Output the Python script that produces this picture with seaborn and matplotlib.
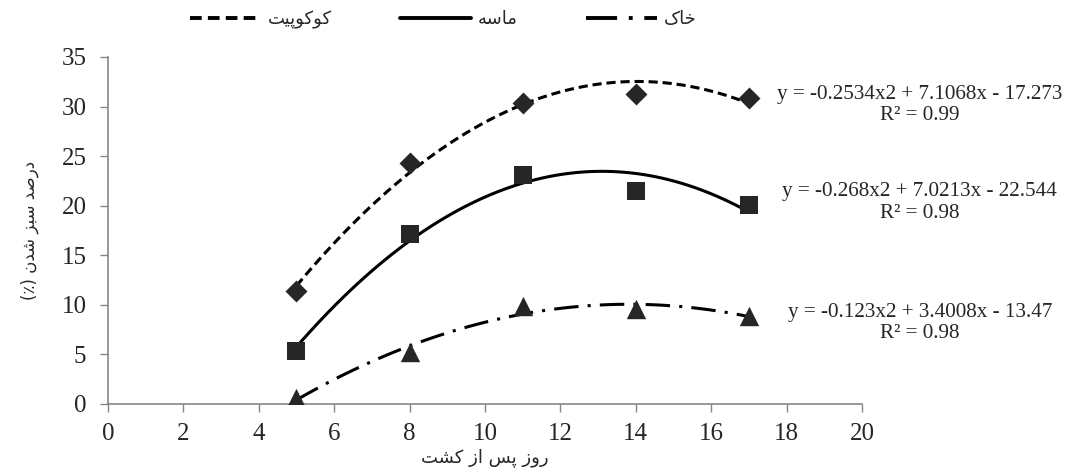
"""Seedling emergence percentage vs. days after sowing, with quadratic trendlines."""

import matplotlib

matplotlib.use("Agg")
import matplotlib.pyplot as plt
from matplotlib.lines import Line2D
import numpy as np
import seaborn as sns

# data
days = [5, 8, 11, 14, 17]
cocopeat = [11.4, 24.3, 30.4, 31.3, 30.9]
sand = [5.3, 17.1, 23.1, 21.5, 20.1]
soil = [0.6, 5.2, 9.9, 9.6, 8.9]

series_names = ["کوکوپیت", "ماسه", "خاک"]
equations = [
    "y = -0.2534x2 + 7.1068x - 17.273\nR² = 0.99",
    "y = -0.268x2 + 7.0213x - 22.544\nR² = 0.98",
    "y = -0.123x2 + 3.4008x - 13.47\nR² = 0.98",
]
x_label = "روز پس از کشت"
y_label = "درصد سبز شدن (٪)"

x_ticks = list(range(0, 21, 2))
y_ticks = list(range(0, 36, 5))

# matplotlib does no Arabic shaping, so join letters with presentation forms
FORMS = {
    "ا": ("\uFE8D", "\uFE8E", None, None),
    "ب": ("\uFE8F", "\uFE90", "\uFE91", "\uFE92"),
    "ت": ("\uFE95", "\uFE96", "\uFE97", "\uFE98"),
    "خ": ("\uFEA5", "\uFEA6", "\uFEA7", "\uFEA8"),
    "د": ("\uFEA9", "\uFEAA", None, None),
    "ر": ("\uFEAD", "\uFEAE", None, None),
    "ز": ("\uFEAF", "\uFEB0", None, None),
    "س": ("\uFEB1", "\uFEB2", "\uFEB3", "\uFEB4"),
    "ش": ("\uFEB5", "\uFEB6", "\uFEB7", "\uFEB8"),
    "ص": ("\uFEB9", "\uFEBA", "\uFEBB", "\uFEBC"),
    "م": ("\uFEE1", "\uFEE2", "\uFEE3", "\uFEE4"),
    "ن": ("\uFEE5", "\uFEE6", "\uFEE7", "\uFEE8"),
    "ه": ("\uFEE9", "\uFEEA", "\uFEEB", "\uFEEC"),
    "و": ("\uFEED", "\uFEEE", None, None),
    "پ": ("\uFB56", "\uFB57", "\uFB58", "\uFB59"),
    "ک": ("\uFB8E", "\uFB8F", "\uFB90", "\uFB91"),
    "ی": ("\uFBFC", "\uFBFD", "\uFBFE", "\uFBFF"),
}
NON_JOINING = set("ادذرزژو")


def shape(text):
    out = []
    for i, ch in enumerate(text):
        if ch not in FORMS:
            out.append(ch)
            continue
        prev = text[i - 1] if i > 0 else ""
        nxt = text[i + 1] if i + 1 < len(text) else ""
        join_prev = prev in FORMS and prev not in NON_JOINING
        join_next = nxt in FORMS and ch not in NON_JOINING
        iso, fin, ini, med = FORMS[ch]
        if join_prev and join_next:
            out.append(med)
        elif join_prev:
            out.append(fin)
        elif join_next:
            out.append(ini)
        else:
            out.append(iso)
    mirror = {"(": ")", ")": "("}
    return "".join(mirror.get(c, c) for c in reversed(out))


sns.set_style("white")
plt.rcParams["font.family"] = ["Liberation Serif", "DejaVu Sans"]
AR_FONT = ["DejaVu Sans"]

fig = plt.figure(figsize=(10.67, 4.71), dpi=100)
ax = fig.add_axes([0.1012, 0.1423, 0.7067, 0.7367])

mark_color = "#262626"
styles = [
    dict(marker="D", s=125, ls=(0, (3, 1.6))),
    dict(marker="s", s=175, ls="-"),
    dict(marker="^", s=195, ls=(0, (8, 3, 1, 3))),
]
values = [cocopeat, sand, soil]

handles = []
for vals, st, name in zip(values, styles, series_names):
    sns.regplot(
        x=np.array(days),
        y=np.array(vals),
        order=2,
        ci=None,
        marker=st["marker"],
        ax=ax,
        scatter_kws=dict(s=st["s"], color=mark_color, alpha=1, linewidths=0, zorder=3),
        line_kws=dict(color="black", lw=2.2, ls=st["ls"], zorder=2),
    )
    handles.append(Line2D([], [], color="black", lw=2.8, ls=st["ls"], label=shape(name)))

ax.set_xlim(0, 20)
ax.set_ylim(0, 35)
ax.set_xticks(x_ticks)
ax.set_yticks(y_ticks)
ax.tick_params(axis="both", labelsize=18, length=5.5, width=1, color="#868686",
               direction="out", bottom=True, left=True)
ax.tick_params(axis="x", pad=8)
ax.tick_params(axis="y", pad=10)

for side in ["top", "right"]:
    ax.spines[side].set_visible(False)
for side in ["left", "bottom"]:
    ax.spines[side].set_color("#868686")
    ax.spines[side].set_linewidth(1.2)

ax.set_xlabel(shape(x_label), fontsize=13, family=AR_FONT)
ax.xaxis.set_label_coords(0.5, -0.128)
ax.set_ylabel(shape(y_label), fontsize=12, family=AR_FONT, labelpad=16)

for eq, ypos in zip(equations, [0.778, 0.570, 0.314]):
    fig.text(0.862, ypos, eq, ha="center", va="center", fontsize=15.2,
             multialignment="center", linespacing=1.15)

leg = fig.legend(handles=handles, loc="center", bbox_to_anchor=(0.4155, 0.958),
                 ncol=3, frameon=False, handlelength=3.9, handletextpad=0.4,
                 columnspacing=3.8, prop=dict(family=AR_FONT, size=13))

fig.savefig("out.png", dpi=100)
